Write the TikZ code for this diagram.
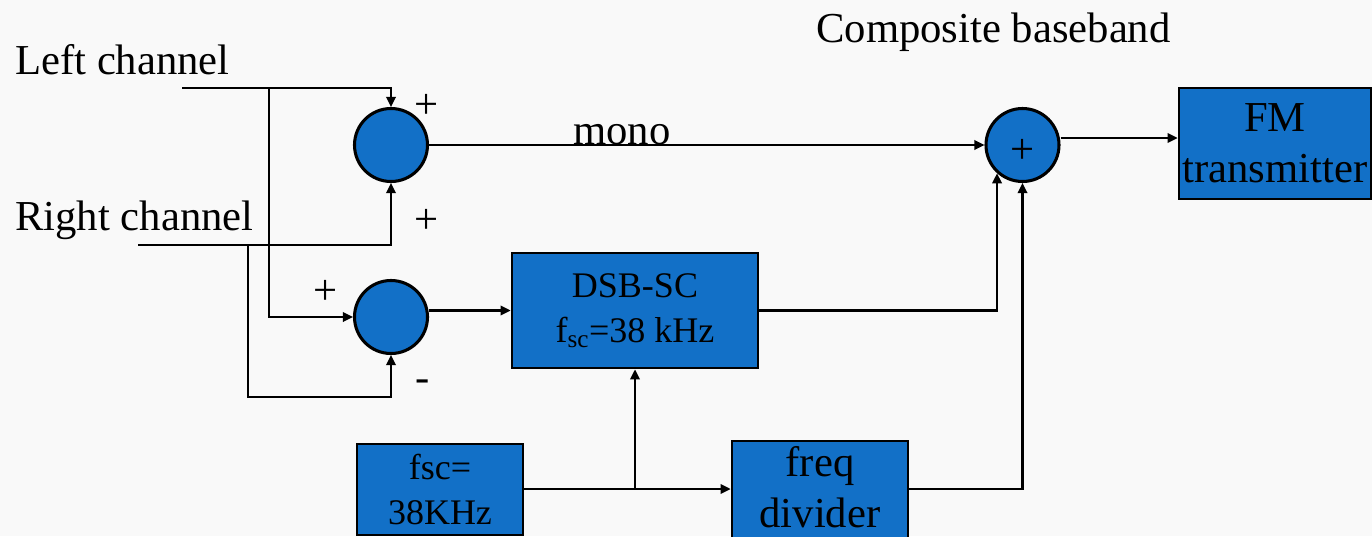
\documentclass[tikz,border=0pt]{standalone}
\usepackage{fontspec}
\setmainfont{Liberation Serif}
\usetikzlibrary{arrows.meta}
\definecolor{boxblue}{RGB}{18,112,199}
\definecolor{paper}{RGB}{249,249,249}
\begin{document}
\begin{tikzpicture}[x=0.75pt,y=-0.75pt,
  big/.style={font=\fontsize{32}{38}\selectfont},
  mid/.style={font=\fontsize{27}{34}\selectfont},
  sumnode/.style={circle,draw=black,line width=2.3pt,fill=boxblue,minimum size=54.75pt,inner sep=0pt},
  blockbox/.style={rectangle,draw=black,line width=2pt,fill=boxblue,align=center,inner sep=0pt},
  wire/.style={line width=1.7pt,line join=miter},
  arr/.style={wire,-{Triangle[length=7.5pt,width=7pt]}},
  lbl/.style={big,inner sep=0pt,anchor=base west},
  sign/.style={big,inner sep=0pt}]
\fill[paper] (0,0) rectangle (1372,536);
\clip (0,0) rectangle (1372,536);

% summers
\node[sumnode] (s1) at (391,145) {};
\node[sumnode] (s2) at (391,317) {};
\node[sumnode] (s3) at (1022.5,145) {};

% blocks
\node[blockbox,big,minimum width=144pt,minimum height=83.25pt] (fm) at (1275,143.5) {FM\\transmitter};
\node[blockbox,mid,minimum width=184.5pt,minimum height=86.25pt] (dsb) at (635,310.5) {DSB-SC\\f\textsubscript{sc}=38 kHz};
\node[blockbox,mid,minimum width=124.5pt,minimum height=68.25pt] (fsc) at (440,489.5) {fsc=\\38KHz};
\node[blockbox,minimum width=132pt,minimum height=75pt] (fdiv) at (820,491) {};
\node[big,align=center,inner sep=0pt] (fdivtext) at (820,487) {freq\\divider};

% labels
\node[lbl] (tl) at (15,74) {Left channel};
\node[lbl] (tr) at (15,230) {Right channel};
\node[lbl] (tmono) at (573,144) {mono};
\node[lbl] (tcomp) at (816,42) {Composite baseband};

\node[sign] (p1) at (427,106) {+};
\node[sign] (p2) at (427,221) {+};
\node[sign] (p3) at (326,292) {+};
\node[sign] (m1) at (423,386) {-};
\node[sign] (p4) at (1023,151) {+};

% inputs
\coordinate (lin) at (182,88);
\coordinate (lj) at (269,88);
\coordinate (rin) at (138,245);
\coordinate (rj) at (248,245);
\coordinate (rb) at (248,397);

\draw[arr] (lin) -| (s1.north);
\draw[arr] (lj) |- (s2.west);
\draw[arr] (rin) -| (s1.south);
\draw[arr] (rj) -- (rb) -| (s2.south);

% main paths
\draw[arr] (s1.east) -- (s3.west);
\draw[arr] (s2.east |- dsb.west) -- (dsb.west);
\draw[arr] (dsb.east) -| (s3.228);
\draw[arr] (s3.east |- 0,138) -- (fm.west |- 0,138);
\draw[arr] (fsc.east |- 0,489) -- (fdiv.west |- 0,489);
\coordinate (fj) at (635,489);
\draw[arr] (fj) -- (dsb.south);
\draw[arr] (fdiv.east |- 0,489) -| (s3.south);
\end{tikzpicture}
\end{document}
